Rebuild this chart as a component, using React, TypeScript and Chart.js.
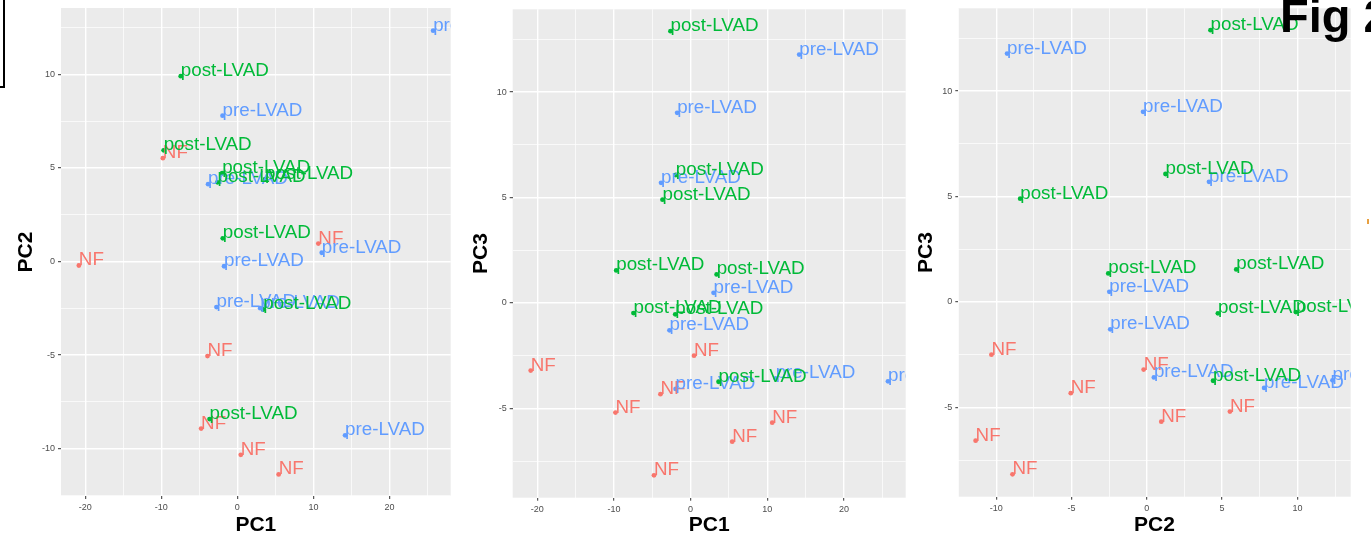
import React, { useEffect, useRef } from 'react';
import { Chart, registerables } from 'chart.js';

Chart.register(...registerables);

// ---- data ----
const groupNames = ['NF', 'pre-LVAD', 'post-LVAD'];
const groupColors = ['#F8766D', '#619CFF', '#00BA38'];

const nfPC1 = [-20.85, -9.8, 10.65, -3.93, -4.77, 0.45, 5.43];
const nfPC2 = [-0.21, 5.52, 0.96, -5.05, -8.92, -10.32, -11.37];
const nfPC3 = [-3.21, -5.2, -5.68, -4.33, -8.18, -2.5, -6.58];

const prePC1 = [25.75, -1.95, -3.85, 11.1, -1.75, -2.75, 3.0, 14.17];
const prePC2 = [12.33, 7.79, 4.13, 0.47, -0.25, -2.43, -2.49, -9.28];
const prePC3 = [-3.72, -4.08, 5.7, -3.58, 9.02, -1.3, 0.48, 11.78];

const postPC1 = [-7.45, -9.7, -2.62, -2.0, 3.65, -1.92, 3.4, -3.66];
const postPC2 = [9.9, 5.94, 4.23, 4.72, 4.4, 1.24, -2.56, -8.41];
const postPC3 = [-0.48, 1.54, 12.89, -0.54, -3.74, 6.07, 1.35, 4.9];

// axis tick labels (major) and limits
const pc1Ticks = [-20, -10, 0, 10, 20];
const pc2Ticks = [-10, -5, 0, 5, 10];
const pc3Ticks = [-5, 0, 5, 10];
const pc1Limits = [-23.2, 28.06];
const pc2Limits = [-12.52, 13.54];
const pc3Limits = [-9.24, 13.93];

const series: Record<string, number[][]> = {
  PC1: [nfPC1, prePC1, postPC1],
  PC2: [nfPC2, prePC2, postPC2],
  PC3: [nfPC3, prePC3, postPC3],
};
const axisTicks: Record<string, number[]> = { PC1: pc1Ticks, PC2: pc2Ticks, PC3: pc3Ticks };
const axisLimits: Record<string, number[]> = { PC1: pc1Limits, PC2: pc2Limits, PC3: pc3Limits };

const FONT = '"Liberation Sans", Arial, Helvetica, sans-serif';
const H = 548;

type PanelCfg = {
  xKey: string;
  yKey: string;
  left: number;
  width: number;
  area: { l: number; r: number; t: number; b: number };
  yTitleX: number;
  xTitleY: number;
};

const panels: PanelCfg[] = [
  { xKey: 'PC1', yKey: 'PC2', left: 0, width: 458, area: { l: 61, r: 450.7, t: 8, b: 496 }, yTitleX: 26.7, xTitleY: 525 },
  { xKey: 'PC1', yKey: 'PC3', left: 462, width: 450, area: { l: 512.7, r: 905.7, t: 9.3, b: 497.7 }, yTitleX: 481, xTitleY: 525 },
  { xKey: 'PC2', yKey: 'PC3', left: 912, width: 459, area: { l: 958.3, r: 1350.7, t: 8.3, b: 496.7 }, yTitleX: 926, xTitleY: 525 },
];

function allTicks(key: string): number[] {
  const majors = axisTicks[key];
  const [lo, hi] = axisLimits[key];
  const step = majors[1] - majors[0];
  const set = new Set<number>();
  majors.forEach((m) => {
    set.add(m);
    set.add(m - step / 2);
    set.add(m + step / 2);
  });
  return Array.from(set).filter((v) => v >= lo && v <= hi).sort((a, b) => a - b);
}

const bgPlugin = {
  id: 'panelBg',
  beforeDraw(chart: any) {
    const { ctx, chartArea: a } = chart;
    ctx.save();
    ctx.fillStyle = '#EBEBEB';
    ctx.fillRect(a.left, a.top, a.right - a.left, a.bottom - a.top);
    ctx.restore();
  },
};

const labelPlugin = {
  id: 'pointLabels',
  afterDatasetsDraw(chart: any) {
    const { ctx, chartArea: a } = chart;
    ctx.save();
    ctx.beginPath();
    ctx.rect(a.left, a.top, a.right - a.left, a.bottom - a.top);
    ctx.clip();
    ctx.font = `18.8px ${FONT}`;
    ctx.textAlign = 'left';
    ctx.textBaseline = 'alphabetic';
    chart.data.datasets.forEach((ds: any, di: number) => {
      const meta = chart.getDatasetMeta(di);
      ctx.fillStyle = ds.borderColor;
      meta.data.forEach((el: any) => ctx.fillText(ds.label, el.x, el.y));
    });
    ctx.restore();
  },
};

function makeScale(key: string, isX: boolean, p: PanelCfg) {
  const majors = axisTicks[key];
  const ticksList = allTicks(key);
  const [lo, hi] = axisLimits[key];
  const isMajor = (v: any) => majors.includes(v);
  const titleHalf = (21 * 1.2) / 2;
  return {
    type: 'linear',
    position: isX ? 'bottom' : 'left',
    min: lo,
    max: hi,
    bounds: 'data',
    afterBuildTicks: (s: any) => {
      s.ticks = ticksList.map((v) => ({ value: v }));
    },
    afterFit: (s: any) => {
      if (isX) s.height = H - p.area.b;
      else s.width = p.area.l - p.left;
      s.paddingTop = 0;
      s.paddingBottom = 0;
      s.paddingLeft = 0;
      s.paddingRight = 0;
    },
    ticks: {
      autoSkip: false,
      maxRotation: 0,
      minRotation: 0,
      padding: isX ? 3.3 : 3,
      color: '#4D4D4D',
      font: { family: FONT, size: 9 },
      callback: (v: any) => (isMajor(v) ? String(v) : ''),
    },
    grid: {
      color: '#FFFFFF',
      lineWidth: (c: any) => (c.tick && isMajor(c.tick.value) ? 1.4 : 0.7),
      drawTicks: true,
      tickLength: 3,
      tickWidth: 1,
      tickColor: (c: any) => (c.tick && isMajor(c.tick.value) ? '#333333' : 'rgba(0,0,0,0)'),
    },
    border: { display: false },
    title: {
      display: true,
      text: key,
      color: '#000000',
      font: { family: FONT, size: 21, weight: 'bold' },
      padding: isX
        ? { top: 0, bottom: H - p.xTitleY - titleHalf }
        : { top: p.yTitleX - p.left - titleHalf, bottom: 0 },
    },
  };
}

function buildConfig(p: PanelCfg): any {
  const xs = series[p.xKey];
  const ys = series[p.yKey];
  return {
    type: 'scatter',
    data: {
      datasets: groupNames.map((name, gi) => ({
        label: name,
        data: xs[gi].map((v, i) => ({ x: v, y: ys[gi][i] })),
        backgroundColor: groupColors[gi],
        borderColor: groupColors[gi],
        pointRadius: 2.4,
        pointHoverRadius: 2.4,
        pointBorderWidth: 0,
      })),
    },
    options: {
      responsive: false,
      maintainAspectRatio: false,
      animation: false,
      events: [],
      layout: { padding: { left: 0, top: p.area.t, right: p.left + p.width - p.area.r, bottom: 0 } },
      plugins: { legend: { display: false }, tooltip: { enabled: false } },
      scales: {
        x: makeScale(p.xKey, true, p),
        y: makeScale(p.yKey, false, p),
      },
    },
    plugins: [bgPlugin, labelPlugin],
  };
}

function Panel({ p }: { p: PanelCfg }) {
  const ref = useRef<HTMLCanvasElement>(null);
  useEffect(() => {
    const chart = new Chart(ref.current as HTMLCanvasElement, buildConfig(p));
    return () => chart.destroy();
  }, [p]);
  return (
    <canvas
      ref={ref}
      width={p.width}
      height={H}
      style={{ position: 'absolute', left: p.left, top: 0, width: p.width, height: H }}
    />
  );
}

export default function App() {
  return (
    <div
      style={{
        position: 'absolute',
        left: 0,
        top: 0,
        width: 1371,
        height: H,
        overflow: 'hidden',
        background: '#FFFFFF',
      }}
    >
      {panels.map((p, i) => (
        <Panel key={i} p={p} />
      ))}
      <div
        style={{
          position: 'absolute',
          left: -3,
          top: -3,
          width: 6,
          height: 89,
          borderRight: '2px solid #000',
          borderBottom: '2px solid #000',
        }}
      />
      <div
        style={{
          position: 'absolute',
          left: 1280,
          top: -8,
          font: `bold 47px ${FONT}`,
          lineHeight: '47px',
          whiteSpace: 'nowrap',
          color: '#000',
        }}
      >
        Fig 2
      </div>
      <div style={{ position: 'absolute', left: 1367, top: 219, width: 2, height: 5, background: '#E8A040' }} />
    </div>
  );
}
